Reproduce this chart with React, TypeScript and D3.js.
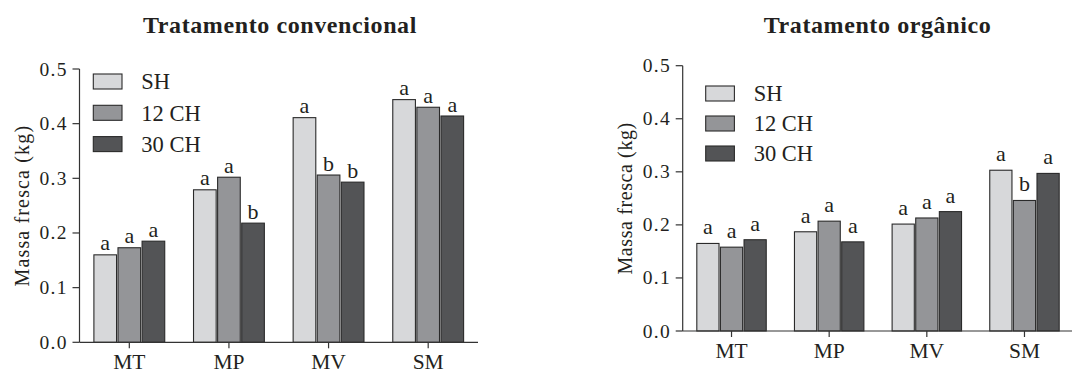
import React from 'react';
import * as d3 from 'd3';

const categories = ['MT', 'MP', 'MV', 'SM'];
const seriesNames = ['SH', '12 CH', '30 CH'];
const seriesColors = ['#d7d8da', '#949598', '#535456'];
const yTicks = [0, 0.1, 0.2, 0.3, 0.4, 0.5];

// Tratamento convencional
const convSH = [0.160, 0.279, 0.411, 0.444];
const conv12 = [0.173, 0.302, 0.306, 0.430];
const conv30 = [0.185, 0.218, 0.293, 0.414];
const convLetSH = ['a', 'a', 'a', 'a'];
const convLet12 = ['a', 'a', 'b', 'a'];
const convLet30 = ['a', 'b', 'b', 'a'];

// Tratamento orgânico
const orgSH = [0.165, 0.187, 0.2015, 0.303];
const org12 = [0.158, 0.207, 0.213, 0.246];
const org30 = [0.172, 0.168, 0.225, 0.297];
const orgLetSH = ['a', 'a', 'a', 'a'];
const orgLet12 = ['a', 'a', 'a', 'b'];
const orgLet30 = ['a', 'a', 'a', 'a'];

const FONT = '"Liberation Serif", "DejaVu Serif", serif';
const INK = '#231f20';
const LS = 1.3; // tick labels run a little wide in the scan

type PanelProps = {
  title: string;
  titleX: number;
  values: number[][];
  letters: string[][];
  x0: number;
  x1: number;
  yBottom: number;
  yTop: number;
  labelX: number;
  labelSpacing: number;
  legendX: number;
  legendY: number;
  legendStep: number;
  letterGap: number;
};

function Panel(p: PanelProps) {
  const x = d3.scaleBand<string>()
    .domain(categories)
    .range([p.x0, p.x1])
    .paddingInner(0.26)
    .paddingOuter(0.13);
  const xs = d3.scaleBand<string>()
    .domain(seriesNames)
    .range([0, x.bandwidth()])
    .padding(0.06);
  const y = d3.scaleLinear().domain([0, 0.5]).range([p.yBottom, p.yTop]);
  const fmt = d3.format('.1f');

  return (
    <g fontFamily={FONT} fill={INK}>
      <text x={p.titleX} y={33.3} textAnchor="middle" fontSize={24} fontWeight="bold" letterSpacing={0.6}>
        {p.title}
      </text>

      {categories.map((c, i) => (
        <g key={c} transform={`translate(${x(c)},0)`}>
          {seriesNames.map((s, j) => {
            const v = p.values[j][i];
            const bx = xs(s)!;
            return (
              <g key={s}>
                <rect x={bx} y={y(v)} width={xs.bandwidth()} height={p.yBottom - y(v)}
                  fill={seriesColors[j]} stroke="#2a2a2a" strokeWidth={1.1} />
                <text x={bx + xs.bandwidth() / 2} y={y(v) - p.letterGap} textAnchor="middle" fontSize={22}>
                  {p.letters[j][i]}
                </text>
              </g>
            );
          })}
        </g>
      ))}

      {/* y axis */}
      <line x1={p.x0} x2={p.x0} y1={p.yBottom} y2={p.yTop} stroke="#333" strokeWidth={1.2} />
      {yTicks.map(t => (
        <g key={t}>
          <line x1={p.x0 - 7} x2={p.x0} y1={y(t)} y2={y(t)} stroke="#333" strokeWidth={1.2} />
          <text x={p.x0 - 13 + LS} y={y(t) + 6.5} textAnchor="end" fontSize={19.5} letterSpacing={LS}>
            {fmt(t)}
          </text>
        </g>
      ))}
      <text transform={`translate(${p.labelX},${(p.yBottom + p.yTop) / 2}) rotate(-90)`}
        textAnchor="middle" dominantBaseline="central" fontSize={20} letterSpacing={p.labelSpacing}>
        Massa fresca (kg)
      </text>

      {/* x axis */}
      <line x1={p.x0} x2={p.x1} y1={p.yBottom} y2={p.yBottom} stroke="#333" strokeWidth={1.2} />
      {categories.map(c => {
        const cx = x(c)! + x.bandwidth() / 2;
        return (
          <g key={c}>
            <line x1={cx} x2={cx} y1={p.yBottom} y2={p.yBottom + 6} stroke="#333" strokeWidth={1.2} />
            <text x={cx} y={p.yBottom + 27} textAnchor="middle" fontSize={21.5}>{c}</text>
          </g>
        );
      })}

      {/* legend */}
      {seriesNames.map((s, j) => (
        <g key={s} transform={`translate(${p.legendX},${p.legendY + j * p.legendStep})`}>
          <rect x={0} y={0} width={28.7} height={15} fill={seriesColors[j]} stroke="#2a2a2a" strokeWidth={1.1} />
          <text x={48} y={15.3} fontSize={22.5}>{s}</text>
        </g>
      ))}
    </g>
  );
}

export default function App() {
  return (
    <svg width={1072} height={372} style={{ position: 'absolute', left: 0, top: 0, background: '#fff' }}>
      <Panel
        title="Tratamento convencional"
        titleX={280}
        values={[convSH, conv12, conv30]}
        letters={[convLetSH, convLet12, convLet30]}
        x0={79.5}
        x1={478}
        yBottom={342.3}
        yTop={69}
        labelX={21.7}
        labelSpacing={1.15}
        legendX={93.3}
        legendY={74}
        legendStep={31.3}
        letterGap={4.5}
      />
      <Panel
        title="Tratamento orgânico"
        titleX={877.5}
        values={[orgSH, org12, org30]}
        letters={[orgLetSH, orgLet12, orgLet30]}
        x0={682.7}
        x1={1073.3}
        yBottom={331}
        yTop={65.7}
        labelX={625}
        labelSpacing={0.6}
        legendX={705.7}
        legendY={86}
        legendStep={30}
        letterGap={9}
      />
    </svg>
  );
}
